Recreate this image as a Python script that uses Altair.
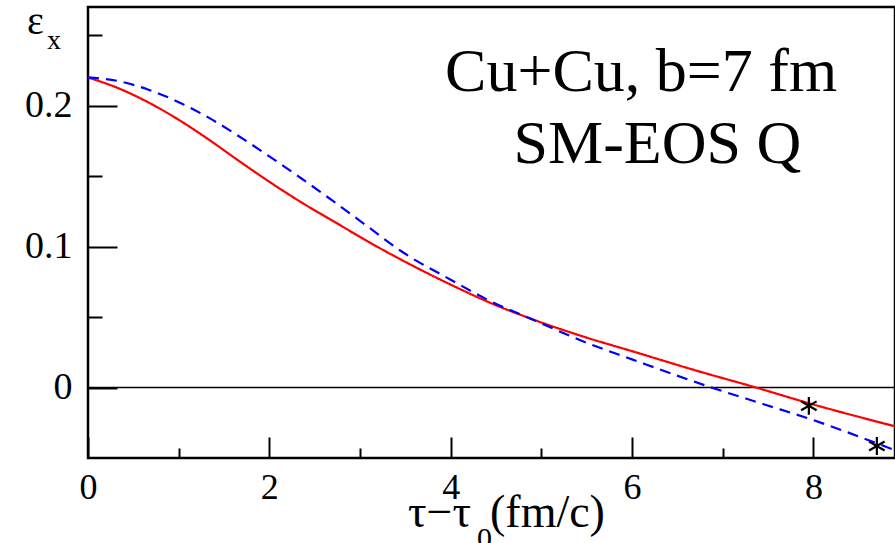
import altair as alt
import pandas as pd

# ---- data ----
t_red = [0.0, 0.33, 0.66, 1.0, 1.33, 1.66, 2.0, 2.35, 2.72, 3.09, 3.46, 4.0,
         4.44, 4.92, 5.47, 6.0, 6.72, 7.34, 7.97, 8.9]
eps_red = [0.220, 0.2125, 0.2025, 0.190, 0.176, 0.161, 0.146, 0.1315, 0.1175, 0.1035,
           0.0905, 0.0730, 0.0600, 0.0480, 0.0360, 0.0258, 0.0118, 0.0005, -0.0115, -0.0275]

t_blue = [0.0, 0.33, 0.66, 1.0, 1.33, 1.66, 2.0, 2.35, 2.72, 3.09, 3.46, 4.0,
          4.44, 4.92, 5.47, 6.0, 6.83, 7.46, 7.97, 8.9]
eps_blue = [0.220, 0.2175, 0.2115, 0.2025, 0.1915, 0.1785, 0.1640, 0.1485, 0.1315, 0.1140,
            0.0965, 0.0765, 0.0612, 0.0478, 0.0325, 0.0200, 0.0010, -0.0120, -0.0225, -0.0445]

star_t = [7.95, 8.7]
star_eps = [-0.013, -0.0415]

x_major = [0, 2, 4, 6, 8]
x_minor = [1, 3, 5, 7]
y_major = [0, 0.1, 0.2]
y_minor = [0.05, 0.15, 0.25]

annot_text = ["Cu+Cu, b=7 fm", "SM-EOS Q"]
annot_t = [6.1, 6.28]
annot_eps = [0.2104, 0.1595]

FONT = "Liberation Serif"
W, H = 807, 451

xscale = alt.Scale(domain=[0, 8.9], nice=False, zero=False)
yscale = alt.Scale(domain=[-0.05, 0.27], nice=False, zero=False)

curves = pd.concat([
    pd.DataFrame({"t": t_red, "eps": eps_red, "series": "red", "order": range(len(t_red))}),
    pd.DataFrame({"t": t_blue, "eps": eps_blue, "series": "blue", "order": range(len(t_blue))}),
])

lines = alt.Chart(curves).mark_line(clip=True, strokeWidth=2.2, interpolate="monotone").encode(
    x=alt.X("t:Q", scale=xscale, axis=alt.Axis(
        orient="bottom", values=x_major, format="d", offset=-21, tickSize=21, tickWidth=2,
        tickColor="black", domain=False, grid=False, labelFont=FONT, labelFontSize=36,
        labelColor="black", labelPadding=12, labelFlush=False, title=None)),
    y=alt.Y("eps:Q", scale=yscale, axis=alt.Axis(
        orient="left", values=y_major, format="~g", offset=-29, tickSize=29, tickWidth=2,
        tickColor="black", domain=False, grid=False, labelFont=FONT, labelFontSize=38,
        labelColor="black", labelPadding=16, title=None)),
    color=alt.Color("series:N", scale=alt.Scale(domain=["red", "blue"], range=["#ff0000", "#0000ff"]), legend=None),
    strokeDash=alt.StrokeDash("series:N", scale=alt.Scale(domain=["red", "blue"], range=[[1, 0], [11, 7]]), legend=None),
    detail="series:N",
    order="order:Q",
)

zero = alt.Chart(pd.DataFrame({"z": [0]})).mark_rule(color="black", strokeWidth=1.5).encode(
    y=alt.Y("z:Q", scale=yscale, axis=None)
)

ASTERISK = "M0,-1L0,1M-0.866,-0.5L0.866,0.5M-0.866,0.5L0.866,-0.5"
stars = alt.Chart(pd.DataFrame({"t": star_t, "eps": star_eps})).mark_point(
    shape=ASTERISK, filled=False, color="black", strokeWidth=2.2, size=320, opacity=1
).encode(
    x=alt.X("t:Q", scale=xscale, axis=alt.Axis(
        orient="bottom", values=x_minor, offset=-10, tickSize=10, tickWidth=2, tickColor="black",
        labels=False, domain=False, grid=False, title=None)),
    y=alt.Y("eps:Q", scale=yscale, axis=alt.Axis(
        orient="left", values=y_minor, offset=-14, tickSize=14, tickWidth=2, tickColor="black",
        labels=False, domain=False, grid=False, title=None)),
)

annot = alt.Chart(pd.DataFrame({"t": annot_t, "eps": annot_eps, "label": annot_text})).mark_text(
    font=FONT, fontSize=62, align="center", baseline="alphabetic", color="black"
).encode(
    x=alt.X("t:Q", scale=xscale, axis=None),
    y=alt.Y("eps:Q", scale=yscale, axis=None),
    text="label:N",
)

def label(txt, x, y, size, align="left"):
    return alt.Chart(pd.DataFrame({"s": [txt]})).mark_text(
        font=FONT, fontSize=size, align=align, baseline="alphabetic", color="black"
    ).encode(x=alt.value(x), y=alt.value(y), text="s:N")

ylab_eps = label("ε", -61, 27, 40)
ylab_x = label("x", -41, 42, 28)
xlab_a = label("τ−τ", 320, 520, 46)
xlab_0 = label("0", 389, 541, 30)
xlab_b = label("(fm/c)", 402, 520, 46)

chart = alt.layer(
    zero, lines, stars, annot, ylab_eps, ylab_x, xlab_a, xlab_0, xlab_b
).resolve_axis(x="independent", y="independent").properties(
    width=W, height=H, autosize="none",
    padding={"left": 88, "top": 7, "right": 0, "bottom": 85},
).configure(background="white").configure_view(stroke="black", strokeWidth=2.5)

chart.save("out.html", embed_options={"renderer": "svg", "actions": False})
